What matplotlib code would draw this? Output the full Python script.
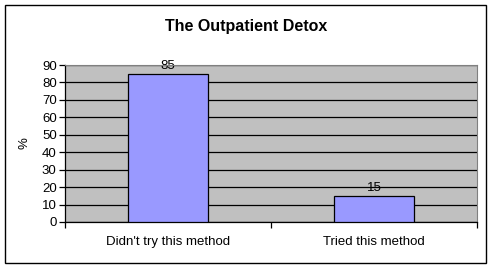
import matplotlib
matplotlib.use("Agg")
import matplotlib.pyplot as plt
from matplotlib.patches import Rectangle

categories = ["Didn't try this method", "Tried this method"]
values = [85, 15]
yticks = [0, 10, 20, 30, 40, 50, 60, 70, 80, 90]

W, H = 492, 268
fig = plt.figure(figsize=(W/100, H/100), dpi=100)
fig.patch.set_facecolor("white")
fig.patches.append(Rectangle((5/W, 5/H), (486-5)/W, (263-5)/H, transform=fig.transFigure,
                             fill=False, edgecolor="black", linewidth=1.0))

ax = fig.add_axes([65/W, 1-222/H, (477-65)/W, (222-65)/H])
ax.set_facecolor("#c0c0c0")
ax.set_xlim(0, 2)
ax.set_ylim(0, 90)
x = [0.5, 1.5]
bars = ax.bar(x, values, width=0.39, color="#9999ff", edgecolor="black", linewidth=0.9, zorder=3)
fs = 9.5
for xi, v in zip(x, values):
    ax.text(xi, v + 0.8, str(v), ha="center", va="bottom", fontsize=fs, family="Liberation Sans")
ax.set_yticks(yticks)
ax.set_yticklabels([str(t) for t in yticks], fontsize=fs, family="Liberation Sans")
ax.yaxis.grid(True, color="black", linewidth=0.9, zorder=1)
ax.set_axisbelow(True)
ax.set_xticks([0, 1, 2])
ax.set_xticklabels([])
ax.set_xticks(x, minor=True)
ax.set_xticklabels(categories, minor=True, fontsize=fs, family="Liberation Sans")
ax.tick_params(axis="x", which="minor", length=0, pad=10)
ax.tick_params(axis="x", which="major", length=4, direction="out", width=0.9)
ax.tick_params(axis="y", length=4, direction="out", width=0.9, pad=2)
ax.spines["top"].set_color("#808080")
ax.spines["top"].set_zorder(5)
ax.spines["right"].set_color("#808080")
ax.spines["left"].set_linewidth(0.9)
ax.spines["bottom"].set_linewidth(0.9)
ax.set_ylabel("%", fontsize=fs, family="Liberation Sans", labelpad=8)
fig.text(246/W, 1-26/H, "The Outpatient Detox", ha="center", va="center",
         fontsize=11.5, fontweight="bold", family="Liberation Sans")
fig.savefig("out.png", dpi=100)
